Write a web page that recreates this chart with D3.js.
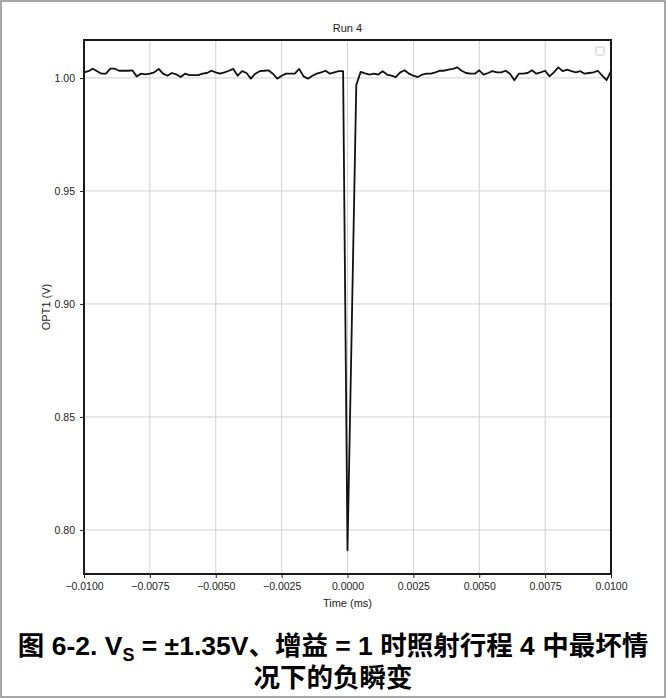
<!DOCTYPE html>
<html>
<head>
<meta charset="utf-8">
<script src="https://cdn.jsdelivr.net/npm/d3@7"></script>
<style>
  html, body { margin: 0; padding: 0; background: #fff; }
  svg { display: block; }
</style>
</head>
<body>
<svg id="chart" width="666" height="698"></svg>
<script>
// Sample times (ms): 121 samples from -0.0100 to 0.0100
const sampleCount = 121;
const timeStart = -0.01;
const timeStep = 0.02 / 120;

// OPT1 output voltage (V) per sample
const opt1Values = [
  1.0025, 1.0030, 1.0041, 1.0030, 1.0019, 1.0019, 1.0041, 1.0041, 1.0032, 1.0032,
  1.0032, 1.0034, 1.0007, 1.0019, 1.0016, 1.0019, 1.0025, 1.0040, 1.0019, 1.0010,
  1.0022, 1.0016, 1.0004, 1.0019, 1.0013, 1.0013, 1.0013, 1.0019, 1.0022, 1.0032,
  1.0025, 1.0019, 1.0025, 1.0032, 1.0040, 1.0010, 1.0030, 1.0022, 0.9997, 1.0019,
  1.0030, 1.0032, 1.0034, 1.0019, 0.9997, 1.0010, 1.0019, 1.0019, 1.0019, 1.0040,
  1.0007, 0.9997, 1.0010, 1.0019, 1.0025, 1.0032, 1.0019, 1.0025, 1.0030, 1.0030,
  0.7910, 0.8930, 0.9969, 1.0027, 1.0020, 1.0015, 1.0019, 1.0015, 1.0030, 1.0015,
  1.0010, 1.0004, 1.0025, 1.0034, 1.0019, 1.0010, 1.0004, 1.0015, 1.0019, 1.0019,
  1.0025, 1.0032, 1.0032, 1.0037, 1.0040, 1.0047, 1.0032, 1.0022, 1.0019, 1.0019,
  1.0034, 1.0015, 1.0022, 1.0030, 1.0025, 1.0025, 1.0032, 1.0019, 0.9990, 1.0019,
  1.0019, 1.0022, 1.0034, 1.0019, 1.0025, 1.0032, 1.0007, 1.0025, 1.0047, 1.0030,
  1.0037, 1.0030, 1.0025, 1.0030, 1.0019, 1.0022, 1.0025, 1.0032, 1.0010, 0.9990,
  1.0030
];

// Axis ticks
const xTicks = [-0.01, -0.0075, -0.005, -0.0025, 0, 0.0025, 0.005, 0.0075, 0.01];
const yTicks = [0.80, 0.85, 0.90, 0.95, 1.00];

const titleText = "Run 4";
const xLabelText = "Time (ms)";
const yLabelText = "OPT1 (V)";

const times = d3.range(sampleCount).map(i => timeStart + i * timeStep);
const points = times.map((t, i) => ({ t, v: opt1Values[i] }));

const svg = d3.select("#chart");
const W = 666, H = 698;
const plot = { left: 84, right: 611, top: 40, bottom: 574 };

const x = d3.scaleLinear().domain([-0.01, 0.01]).range([plot.left, plot.right]);
const y = d3.scaleLinear().domain([0.7805, 1.0168]).range([plot.bottom, plot.top]);

const tickFont = "'Liberation Sans Narrow', 'Liberation Sans', Arial, sans-serif";

// outer figure frame
svg.append("rect")
  .attr("x", 1).attr("y", 1).attr("width", W - 2).attr("height", H - 2)
  .attr("fill", "#fff").attr("stroke", "#8a8a8a").attr("stroke-width", 1.5);

// gridlines
const grid = svg.append("g").attr("stroke", "#d0d0d0").attr("stroke-width", 1);
grid.selectAll("line.gx").data(xTicks).join("line")
  .attr("x1", d => x(d)).attr("x2", d => x(d))
  .attr("y1", plot.top).attr("y2", plot.bottom);
grid.selectAll("line.gy").data(yTicks).join("line")
  .attr("x1", plot.left).attr("x2", plot.right)
  .attr("y1", d => y(d)).attr("y2", d => y(d));

// data line
const line = d3.line().x(d => x(d.t)).y(d => y(d.v));
svg.append("path")
  .datum(points)
  .attr("d", line)
  .attr("fill", "none")
  .attr("stroke", "#111")
  .attr("stroke-width", 1.8)
  .attr("stroke-linejoin", "round");

// axes
const xAxis = d3.axisBottom(x).tickValues(xTicks).tickSize(4).tickPadding(5)
  .tickFormat(d => d3.format(".4f")(d).replace("-", "\u2212"));
const yAxis = d3.axisLeft(y).tickValues(yTicks).tickSize(4).tickPadding(5)
  .tickFormat(d3.format(".2f"));

const gx = svg.append("g").attr("transform", `translate(0,${plot.bottom})`).call(xAxis);
const gy = svg.append("g").attr("transform", `translate(${plot.left},0)`).call(yAxis);
[gx, gy].forEach(g => {
  g.select(".domain").remove();
  g.selectAll(".tick line").attr("stroke", "#222").attr("stroke-width", 1);
  g.selectAll(".tick text").attr("fill", "#222")
    .style("font-family", tickFont).style("font-size", "10.5px");
});

// plot frame (spines)
svg.append("rect")
  .attr("x", plot.left).attr("y", plot.top)
  .attr("width", plot.right - plot.left).attr("height", plot.bottom - plot.top)
  .attr("fill", "none").attr("stroke", "#1a1a1a").attr("stroke-width", 2);

// empty legend box
svg.append("rect")
  .attr("x", 596).attr("y", 47).attr("width", 8).attr("height", 8).attr("rx", 1)
  .attr("fill", "#fff").attr("stroke", "#c8c8c8").attr("stroke-width", 1);

// title and axis labels
svg.append("text")
  .attr("x", (plot.left + plot.right) / 2).attr("y", 32)
  .attr("text-anchor", "middle")
  .style("font-family", tickFont).style("font-size", "11px").attr("fill", "#222")
  .text(titleText);

svg.append("text")
  .attr("x", (plot.left + plot.right) / 2).attr("y", 607)
  .attr("text-anchor", "middle")
  .style("font-family", tickFont).style("font-size", "11px").attr("fill", "#222")
  .text(xLabelText);

svg.append("text")
  .attr("transform", `translate(50,${(plot.top + plot.bottom) / 2}) rotate(-90)`)
  .attr("text-anchor", "middle")
  .style("font-family", tickFont).style("font-size", "11px").attr("fill", "#222")
  .text(yLabelText);

// caption
const capFont = "'Liberation Sans', Arial, 'Noto Sans CJK SC', sans-serif";
const cap1 = svg.append("text")
  .attr("x", W / 2).attr("y", 655)
  .attr("text-anchor", "middle")
  .style("font-family", capFont).style("font-size", "26.5px").style("font-weight", "bold")
  .attr("fill", "#000");
cap1.append("tspan").text("图 6-2. V");
cap1.append("tspan").attr("dy", 6).style("font-size", "18px").text("S");
cap1.append("tspan").attr("dy", -6).text(" = ±1.35V、增益 = 1 时照射行程 4 中最坏情");

svg.append("text")
  .attr("x", W / 2).attr("y", 687)
  .attr("text-anchor", "middle")
  .style("font-family", capFont).style("font-size", "26.5px").style("font-weight", "bold")
  .attr("fill", "#000")
  .text("况下的负瞬变");
</script>
</body>
</html>
